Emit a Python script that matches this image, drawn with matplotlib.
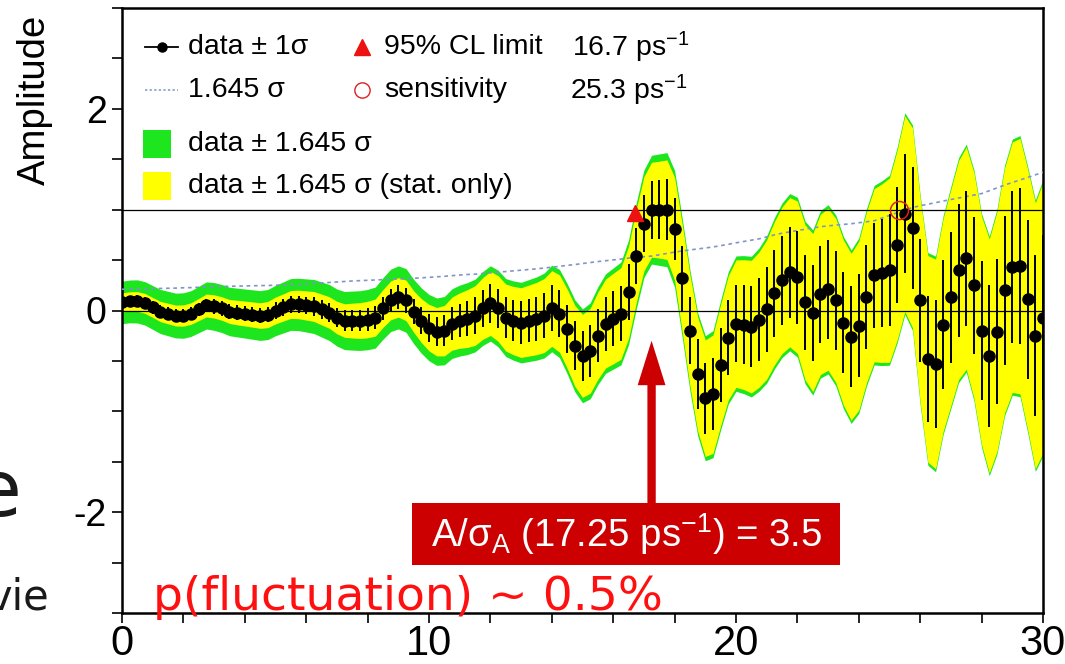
import numpy as np
import matplotlib
matplotlib.use("Agg")
import matplotlib.pyplot as plt
from matplotlib.lines import Line2D
from matplotlib.patches import Rectangle
from matplotlib.ticker import MultipleLocator, FixedLocator

plt.rcParams['font.family'] = ['Liberation Sans', 'DejaVu Sans']
plt.rcParams['mathtext.fontset'] = 'custom'
plt.rcParams['mathtext.rm'] = 'Liberation Sans'
plt.rcParams['mathtext.it'] = 'Liberation Sans:italic'
plt.rcParams['mathtext.bf'] = 'Liberation Sans:bold'
plt.rcParams['axes.unicode_minus'] = False

# oscillation frequency grid (ps^-1), 0.25 steps
freq = np.linspace(0.0, 30.0, 121)

# fitted amplitude at each frequency
amp = [
    0.08, 0.09, 0.09, 0.07, 0.03, -0.01, -0.03, -0.05, -0.05, -0.03,
    0.01, 0.05, 0.04, 0.02, -0.01, -0.02, -0.03, -0.04, -0.05, -0.04,
    0.00, 0.03, 0.06, 0.06, 0.05, 0.04, 0.01, -0.02, -0.07, -0.10,
    -0.10, -0.10, -0.09, -0.07, 0.02, 0.10, 0.13, 0.10, -0.01, -0.10,
    -0.17, -0.21, -0.20, -0.13, -0.10, -0.08, -0.05, 0.02, 0.07, 0.02,
    -0.07, -0.10, -0.12, -0.10, -0.08, -0.05, 0.02, -0.03, -0.18, -0.35,
    -0.45, -0.40, -0.25, -0.13, -0.08, -0.03, 0.18, 0.54, 0.86, 1.00,
    1.00, 1.00, 0.81, 0.32, -0.20, -0.63, -0.87, -0.83, -0.54, -0.27,
    -0.13, -0.14, -0.16, -0.09, 0.01, 0.17, 0.30, 0.38, 0.33, 0.08,
    -0.02, 0.16, 0.21, 0.10, -0.12, -0.26, -0.15, 0.13, 0.35, 0.37,
    0.40, 0.65, 0.96, 0.82, 0.10, -0.48, -0.53, -0.14, 0.13, 0.40,
    0.52, 0.25, -0.20, -0.45, -0.21, 0.20, 0.43, 0.44, 0.11, -0.25,
    -0.07,
]

# total uncertainty (stat + syst)
sig_tot = [
    0.128, 0.129, 0.130, 0.131, 0.132, 0.133, 0.134, 0.135, 0.137, 0.138,
    0.140, 0.142, 0.144, 0.145, 0.146, 0.147, 0.148, 0.149, 0.150, 0.151,
    0.152, 0.154, 0.156, 0.158, 0.160, 0.163, 0.166, 0.169, 0.172, 0.175,
    0.178, 0.180, 0.182, 0.184, 0.186, 0.188, 0.190, 0.192, 0.194, 0.197,
    0.200, 0.203, 0.206, 0.210, 0.214, 0.217, 0.219, 0.223, 0.227, 0.231,
    0.235, 0.239, 0.243, 0.247, 0.251, 0.256, 0.261, 0.266, 0.272, 0.277,
    0.283, 0.289, 0.295, 0.300, 0.305, 0.310, 0.316, 0.320, 0.324, 0.328,
    0.336, 0.344, 0.352, 0.359, 0.365, 0.371, 0.377, 0.383, 0.391, 0.399,
    0.408, 0.416, 0.424, 0.432, 0.444, 0.456, 0.466, 0.474, 0.482, 0.490,
    0.498, 0.505, 0.510, 0.515, 0.519, 0.523, 0.529, 0.535, 0.541, 0.557,
    0.573, 0.590, 0.608, 0.620, 0.632, 0.641, 0.650, 0.660, 0.669, 0.678,
    0.687, 0.696, 0.705, 0.722, 0.739, 0.756, 0.772, 0.787, 0.802, 0.818,
    0.833,
]

# statistical uncertainty only
sig_stat = [
    0.058, 0.058, 0.059, 0.060, 0.060, 0.061, 0.062, 0.063, 0.064, 0.065,
    0.067, 0.069, 0.070, 0.071, 0.072, 0.074, 0.075, 0.076, 0.077, 0.079,
    0.081, 0.082, 0.084, 0.086, 0.088, 0.090, 0.093, 0.095, 0.098, 0.101,
    0.105, 0.108, 0.110, 0.112, 0.114, 0.117, 0.119, 0.122, 0.125, 0.132,
    0.140, 0.146, 0.152, 0.160, 0.167, 0.174, 0.180, 0.186, 0.193, 0.198,
    0.202, 0.206, 0.210, 0.214, 0.218, 0.223, 0.228, 0.233, 0.239, 0.244,
    0.250, 0.256, 0.263, 0.268, 0.273, 0.276, 0.278, 0.281, 0.284, 0.286,
    0.292, 0.300, 0.310, 0.322, 0.334, 0.344, 0.351, 0.357, 0.366, 0.374,
    0.384, 0.391, 0.400, 0.408, 0.420, 0.432, 0.442, 0.450, 0.459, 0.467,
    0.476, 0.483, 0.488, 0.494, 0.498, 0.503, 0.509, 0.515, 0.522, 0.538,
    0.556, 0.572, 0.590, 0.602, 0.614, 0.623, 0.632, 0.642, 0.652, 0.660,
    0.670, 0.679, 0.688, 0.705, 0.722, 0.739, 0.755, 0.770, 0.785, 0.801,
    0.816,
]

cl_factor = 1.645
limit_freq, limit_amp = 16.7, 0.97
sens_freq, sens_amp = 25.3, 1.0
peak_freq, peak_signif = 17.25, 3.5

amp = np.array(amp)
sig_tot = np.array(sig_tot)
sig_stat = np.array(sig_stat)

W, H = 1065, 664
fig = plt.figure(figsize=(W / 100, H / 100), dpi=100)
fig.patch.set_facecolor('white')
ax = fig.add_axes([122 / W, 51 / H, 921 / W, 605 / H])

green = '#1ee61e'
yellow = '#ffff00'
red_dark = '#cc0000'

ax.fill_between(freq, amp - cl_factor * sig_tot, amp + cl_factor * sig_tot,
                color=green, lw=0, zorder=1)
ax.fill_between(freq, amp - cl_factor * sig_stat, amp + cl_factor * sig_stat,
                color=yellow, lw=0, zorder=2)
ax.axhline(0, color='black', lw=0.9, zorder=3)
ax.axhline(1, color='black', lw=0.9, zorder=3)
ax.plot(freq, cl_factor * sig_tot, color='#7f94c8', ls=(0, (2.2, 2.2)),
        lw=1.2, zorder=4)
ax.errorbar(freq, amp, yerr=sig_stat, fmt='o', color='black', ms=8,
            elinewidth=1.4, capsize=0, zorder=5)
ax.plot([limit_freq], [limit_amp], marker='^', color='#ee1111', ms=12,
        zorder=6, clip_on=False)
ax.plot([sens_freq], [sens_amp], marker='o', mfc='none', mec='#dd2020',
        ms=13, mew=1.1, zorder=6)

# arrow pointing at the most significant frequency
ax.annotate('', xy=(peak_freq, -0.30), xytext=(peak_freq, -1.92),
            arrowprops=dict(arrowstyle='simple,head_length=32,head_width=20,tail_width=6',
                            mutation_scale=1, color=red_dark, lw=0,
                            shrinkA=0, shrinkB=0), zorder=7)
ax.add_patch(Rectangle((9.45, -2.52), 13.94, 0.61, color=red_dark, lw=0,
                       zorder=8))
ax.text(9.45 + 13.94 / 2, -2.215,
        'A/σ$_{\\mathrm{A}}$ (%.2f ps$^{\\mathrm{-1}}$) = %.1f' % (peak_freq, peak_signif),
        color='white', fontsize=27.5, ha='center', va='center', zorder=9)

ax.set_xlim(0, 30)
ax.set_ylim(-3, 3)
ax.xaxis.set_major_locator(FixedLocator([0, 10, 20, 30]))
ax.xaxis.set_minor_locator(MultipleLocator(2))
ax.yaxis.set_major_locator(FixedLocator([-2, 0, 2]))
ax.yaxis.set_minor_locator(MultipleLocator(0.5))
ax.tick_params(which='both', direction='out', length=7, width=1.2,
               top=False, right=False)
ax.tick_params(axis='x', labelsize=30, pad=1)
ax.tick_params(axis='y', labelsize=27, pad=4)
for s in ax.spines.values():
    s.set_linewidth(1.8)

fig.text(35 / W, 1 - 100 / H, 'Amplitude', rotation=90, fontsize=27.5,
         ha='center', va='center')


def fx(px):
    return px / W


def fy(py):
    return 1 - py / H


# legend block
lf = 20.5
fig.add_artist(Line2D([fx(145), fx(178)], [fy(47)] * 2, color='black', lw=1.3))
fig.add_artist(Line2D([fx(162)], [fy(47)], marker='o', ms=6.5, color='black'))
fig.text(fx(188), fy(47), 'data ± 1σ', fontsize=lf, va='center')
fig.add_artist(Line2D([fx(362)], [fy(47)], marker='^', ms=11, color='#ee1111'))
fig.text(fx(384), fy(47), '95% CL limit', fontsize=lf, va='center')
fig.text(fx(572), fy(47), '%.1f ps$^{\\mathrm{-1}}$' % limit_freq, fontsize=lf,
         va='center')

fig.add_artist(Line2D([fx(145), fx(178)], [fy(90)] * 2, color='#7f94c8',
                      lw=1.1, ls=(0, (1.5, 1.5))))
fig.text(fx(188), fy(90), '1.645 σ', fontsize=lf, va='center')
fig.add_artist(Line2D([fx(362)], [fy(90)], marker='o', ms=11, mfc='none',
                      mec='#dd2020', mew=1.0))
fig.text(fx(384), fy(90), 'sensitivity', fontsize=lf, va='center')
fig.text(fx(570), fy(90), '%.1f ps$^{\\mathrm{-1}}$' % sens_freq, fontsize=lf,
         va='center')

fig.add_artist(Rectangle((fx(143), fy(158)), 28 / W, 28 / H, color=green,
                         lw=0, transform=fig.transFigure))
fig.text(fx(188), fy(144), 'data ± 1.645 σ', fontsize=lf, va='center')
fig.add_artist(Rectangle((fx(143), fy(200)), 28 / W, 28 / H, color=yellow,
                         lw=0, transform=fig.transFigure))
fig.text(fx(188), fy(186), 'data ± 1.645 σ (stat. only)', fontsize=lf,
         va='center')

# slide text around the figure
fig.text(fx(153), fy(610), 'p(fluctuation) ~ 0.5%', fontsize=34,
         color='#ff1010', family='DejaVu Sans', va='baseline', zorder=20)
fig.text(fx(22), fy(516), 'e', fontsize=56, color='#1a1a1a',
         family='DejaVu Sans', ha='right', va='baseline')
fig.text(fx(50), fy(610), 'vie', fontsize=30, color='#1a1a1a',
         family='DejaVu Sans', ha='right', va='baseline')

fig.savefig('out.png', dpi=100, facecolor='white')
